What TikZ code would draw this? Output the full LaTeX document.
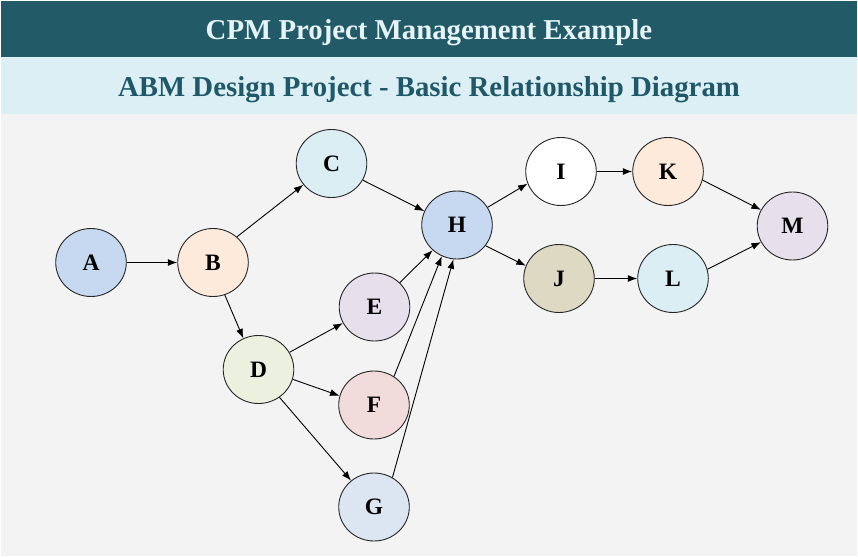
\documentclass[tikz,border=0pt]{standalone}
\usepackage{fontspec}
\setmainfont{Liberation Serif}
\usetikzlibrary{shapes.geometric,arrows.meta}
\definecolor{hdark}{HTML}{225A68}
\definecolor{hlight}{HTML}{DCEFF5}
\definecolor{htext}{HTML}{E6F4F8}
\definecolor{stext}{HTML}{1F5868}
\definecolor{bg}{HTML}{F3F3F3}
\definecolor{cA}{HTML}{C6D9F1}
\definecolor{cB}{HTML}{FDEADA}
\definecolor{cC}{HTML}{DBEEF4}
\definecolor{cD}{HTML}{EBF1DE}
\definecolor{cE}{HTML}{E5E0EC}
\definecolor{cF}{HTML}{F2DCDB}
\definecolor{cG}{HTML}{DCE6F2}
\definecolor{cH}{HTML}{C6D9F1}
\definecolor{cI}{HTML}{FFFFFF}
\definecolor{cJ}{HTML}{DDD9C3}
\definecolor{cK}{HTML}{FDEADA}
\definecolor{cL}{HTML}{DBEEF4}
\definecolor{cM}{HTML}{E5E0EC}
\tikzset{
  task/.style={ellipse, draw=black!85, line width=0.9pt, inner sep=0pt,
    minimum width=70.6pt, minimum height=68pt,
    font=\fontsize{23.5}{23.5}\selectfont\bfseries},
  link/.style={line width=0.9pt, draw=black, -{Latex[length=9.5pt,width=7pt]}},
  band/.style={anchor=base, inner sep=0pt, font=\fontsize{28.8}{30}\selectfont\bfseries}
}
\begin{document}
\begin{tikzpicture}[x=1pt,y=-1pt]
\useasboundingbox (0,0) rectangle (858,556);
\fill[white] (0,0) rectangle (858,556);
\fill[bg] (1,114) rectangle (857,556);
\fill[hdark] (1,1) rectangle (857,57);
\fill[hlight] (1,57) rectangle (857,114);
\node[band, text=htext] (title) at (429,39.5) {CPM Project Management Example};
\node[band, text=stext] (subtitle) at (429,96.8) {ABM Design Project - Basic Relationship Diagram};

\node[task, fill=cA] (A) at (91,262.5) {A};
\node[task, fill=cB] (B) at (213,262.5) {B};
\node[task, fill=cC] (C) at (331.5,163.5) {C};
\node[task, fill=cD] (D) at (258.5,369.5) {D};
\node[task, fill=cE] (E) at (374.5,307) {E};
\node[task, fill=cF] (F) at (374,405) {F};
\node[task, fill=cG] (G) at (374,507) {G};
\node[task, fill=cH] (H) at (457,225) {H};
\node[task, fill=cI] (I) at (561,171.5) {I};
\node[task, fill=cJ] (J) at (559,278.5) {J};
\node[task, fill=cK] (K) at (668,171.5) {K};
\node[task, fill=cL] (L) at (673,278.5) {L};
\node[task, fill=cM] (M) at (792.5,226) {M};

\draw[link] (A.east) -- (B.west);
\draw[link] (B.47) -- (C.217);
\draw[link] (B.-70) -- (D.116);
\draw[link] (C.-28) -- (H.157);
\draw[link] (D.29) -- (E.207);
\draw[link] (D.-16) -- (F.165);
\draw[link] (D.-53) -- (G.131);
\draw[link] (E.44) -- (H.226);
\draw[link] (F.55) -- (H.244);
\draw[link] (G.58) -- (H.264);
\draw[link] (H.30) -- (I.200);
\draw[link] (H.-36) -- (J.159);
\draw[link] (I.east) -- (K.west);
\draw[link] (J.east) -- (L.west);
\draw[link] (K.-14) -- (M.153);
\draw[link] (L.15) -- (M.207);
\end{tikzpicture}
\end{document}
